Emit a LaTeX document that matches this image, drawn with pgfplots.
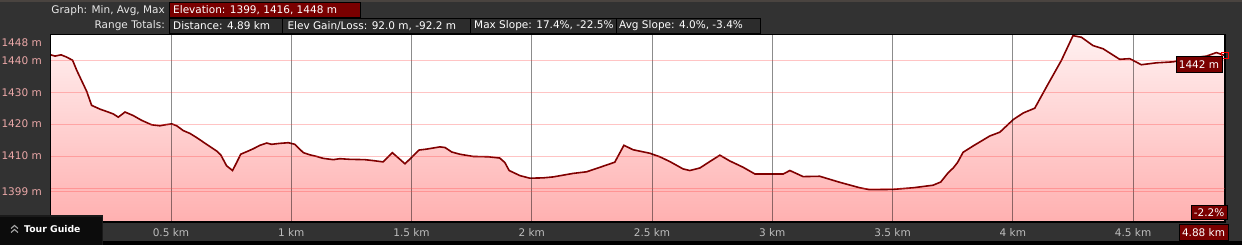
\documentclass[border=0pt]{standalone}
\usepackage{pgfplots}
\pgfplotsset{compat=1.18}
\usepackage{pgfplotstable}
\usepackage{fontspec}
\setmainfont{DejaVu Sans}
\pgfdeclarelayer{background}
\pgfsetlayers{background,main}
\definecolor{bg}{HTML}{323232}
\definecolor{boxbg}{HTML}{2C2C2C}
\definecolor{elev}{HTML}{7A0000}
\definecolor{curve}{HTML}{800000}
\definecolor{ylab}{HTML}{EBA8A8}
\definecolor{xlab}{HTML}{BDBDBD}
\definecolor{htxt}{HTML}{E8E8E8}
\definecolor{filltop}{HTML}{FFF0F0}
\definecolor{fillbot}{HTML}{FFB0B0}
\definecolor{topstrip}{HTML}{4A4440}
\definecolor{tabshadow}{HTML}{1A1A1A}
\definecolor{tabbg}{HTML}{0C0C0C}
\definecolor{chev}{HTML}{A8A8A8}
\definecolor{ygrid}{HTML}{FF3C3C}

\pgfplotstableread{
x y
0.000 1441.7
0.018 1441.3
0.043 1441.7
0.066 1441.0
0.091 1440.0
0.108 1436.9
0.150 1430.2
0.170 1425.9
0.205 1424.7
0.239 1423.8
0.260 1423.2
0.281 1422.2
0.309 1423.8
0.343 1422.7
0.378 1421.2
0.420 1419.8
0.454 1419.5
0.475 1419.8
0.503 1420.1
0.524 1419.5
0.551 1418.0
0.579 1417.1
0.607 1415.8
0.648 1413.7
0.690 1411.6
0.707 1410.4
0.731 1407.0
0.756 1405.5
0.773 1408.0
0.790 1410.6
0.815 1411.4
0.842 1412.3
0.870 1413.4
0.898 1414.1
0.918 1413.7
0.953 1414.0
0.988 1414.2
1.015 1413.7
1.050 1411.1
1.078 1410.4
1.106 1409.9
1.133 1409.3
1.175 1408.9
1.202 1409.2
1.244 1409.0
1.306 1408.9
1.341 1408.6
1.382 1408.2
1.420 1411.1
1.473 1407.6
1.531 1411.9
1.563 1412.2
1.618 1412.9
1.639 1412.7
1.667 1411.3
1.701 1410.6
1.757 1409.9
1.819 1409.8
1.867 1409.4
1.888 1408.0
1.906 1405.5
1.951 1403.9
1.992 1403.1
2.047 1403.2
2.089 1403.5
2.172 1404.6
2.228 1405.1
2.283 1406.5
2.345 1408.1
2.383 1413.4
2.421 1412.0
2.491 1410.9
2.532 1409.8
2.574 1408.3
2.629 1406.0
2.657 1405.5
2.699 1406.3
2.740 1408.3
2.782 1410.3
2.823 1408.5
2.879 1406.5
2.928 1404.4
3.045 1404.4
3.073 1405.5
3.128 1403.6
3.197 1403.7
3.281 1401.8
3.364 1400.1
3.405 1399.5
3.502 1399.6
3.585 1400.1
3.668 1400.9
3.700 1401.9
3.731 1404.8
3.752 1406.3
3.770 1408.0
3.793 1411.2
3.835 1413.2
3.904 1416.3
3.946 1417.5
4.001 1421.4
4.043 1423.5
4.091 1425.0
4.140 1431.7
4.202 1440.0
4.250 1447.7
4.285 1447.2
4.333 1444.6
4.375 1443.6
4.444 1440.3
4.486 1440.5
4.534 1438.6
4.597 1439.2
4.666 1439.5
4.749 1440.8
4.805 1441.3
4.846 1442.4
4.881 1441.5
}\profile

\begin{document}
\begin{tikzpicture}[x=1pt,y=1pt]
\begin{axis}[
  at={(0,0)}, anchor=south west,
  scale only axis, width=1174.1pt, height=187.6pt,
  xmin=0, xmax=4.881, ymin=1389.3, ymax=1448,
  axis line style={black, line width=1.6pt},
  axis background/.style={fill=white},
  xtick={0.5,1,1.5,2,2.5,3,3.5,4,4.5},
  xticklabels={0.5 km,1 km,1.5 km,2 km,2.5 km,3 km,3.5 km,4 km,4.5 km},
  ytick={1399,1410,1420,1430,1440},
  yticklabels={1399 m,1410 m,1420 m,1430 m,1440 m},
  extra y ticks={1400},
  extra y tick labels={},
  extra y tick style={ymajorgrids=true},
  xmajorgrids=true, ymajorgrids=true,
  x grid style={black, opacity=0.45, line width=0.8pt},
  y grid style={ygrid, opacity=0.3, line width=0.9pt},
  major tick length=0pt,
  tick label style={font=\fontsize{10.5}{12}\selectfont},
  yticklabel style={color=ylab, anchor=east, inner sep=0pt, xshift=-8.7pt},
  xticklabel style={color=xlab, anchor=center, yshift=-10pt},
  axis on top,
]
\addplot[draw=none, top color=filltop, bottom color=fillbot]
  table[x=x,y=y] {\profile} |- (axis cs:0,1389.3) -- cycle;
\addplot[curve, line width=1.6pt, mark=none] table[x=x,y=y] {\profile};
\addplot[only marks, mark=square, mark size=3.2pt, red, line width=0.8pt] coordinates {(4.881,1441.5)};
\coordinate (O) at (rel axis cs:0,0);
\end{axis}

\begin{scope}[shift={(O)}]
\begin{scope}[shift={(-50.7,-22.7)}]
\pgfresetboundingbox
\useasboundingbox (0,0) rectangle (1242,245);
\begin{pgfonlayer}{background}
\fill[bg] (0,0) rectangle (1242,245);
\fill[black] (0,0) rectangle (1242,4);
\fill[topstrip] (0,242.5) rectangle (1242,245);
\end{pgfonlayer}

% 1448 label
\node[anchor=east, inner sep=0pt, text=ylab, font=\fontsize{10.5}{12}\selectfont] at (42,202.3) {1448 m};

% header row 1
\node[anchor=east, inner sep=0pt, text=htxt, font=\fontsize{10.5}{12}\selectfont] at (165,234.6) {Graph: Min, Avg, Max};
\filldraw[fill=elev, draw=black, line width=1pt] (169,242.3) rectangle (360.7,227.7);
\node[anchor=west, inner sep=0pt, text=white, font=\fontsize{10.5}{12}\selectfont] at (173,234.6) {Elevation: 1399, 1416, 1448 m};

% header row 2
\node[anchor=east, inner sep=0pt, text=htxt, font=\fontsize{10.5}{12}\selectfont] at (165,219) {Range Totals:};
\filldraw[fill=boxbg, draw=black, line width=1pt] (169,226.7) rectangle (282.7,211.7);
\filldraw[fill=boxbg, draw=black, line width=1pt] (282.7,226.7) rectangle (470,211.7);
\filldraw[fill=boxbg, draw=black, line width=1pt] (470,226.7) rectangle (616,211.7);
\filldraw[fill=boxbg, draw=black, line width=1pt] (616,226.7) rectangle (760.7,211.7);
\begin{scope}[every node/.style={anchor=west, inner sep=0pt, text=white, font=\fontsize{10.5}{12}\selectfont}]
\node at (173,219) {Distance: 4.89 km};
\node at (287.3,219) {Elev Gain/Loss: 92.0 m, -92.2 m};
\node at (474,219) {Max Slope: 17.4\%, -22.5\%};
\node at (619,219) {Avg Slope: 4.0\%, -3.4\%};
\end{scope}

% right annotations
\node[fill=elev, draw=black, line width=1pt, text=white, inner sep=1.5pt, minimum width=46pt, minimum height=16pt, font=\fontsize{10.5}{12}\selectfont] at (1199,180.3) {1442 m};
\node[fill=elev, draw=black, line width=1pt, text=white, inner sep=1pt, minimum width=36pt, minimum height=14pt, font=\fontsize{10.5}{12}\selectfont] at (1209,32) {-2.2\%};
\node[fill=elev, draw=black, line width=1pt, text=white, inner sep=1pt, minimum width=49pt, minimum height=16pt, font=\fontsize{10.5}{12}\selectfont] at (1203.5,12.5) {4.88 km};

% Tour Guide tab
\fill[tabshadow] (0,0) rectangle (103,29.5);
\fill[tabbg] (0,0) rectangle (101.7,28.3);
\draw[chev, line width=1.1pt] (11,12.5) -- (14.5,15.5) -- (18,12.5);
\draw[chev, line width=1.1pt] (11,16.5) -- (14.5,19.5) -- (18,16.5);
\node[anchor=west, inner sep=0pt, text=white, font=\bfseries\fontsize{9.3}{11}\selectfont] at (24,15.7) {Tour Guide};
\end{scope}
\end{scope}
\end{tikzpicture}
\end{document}
